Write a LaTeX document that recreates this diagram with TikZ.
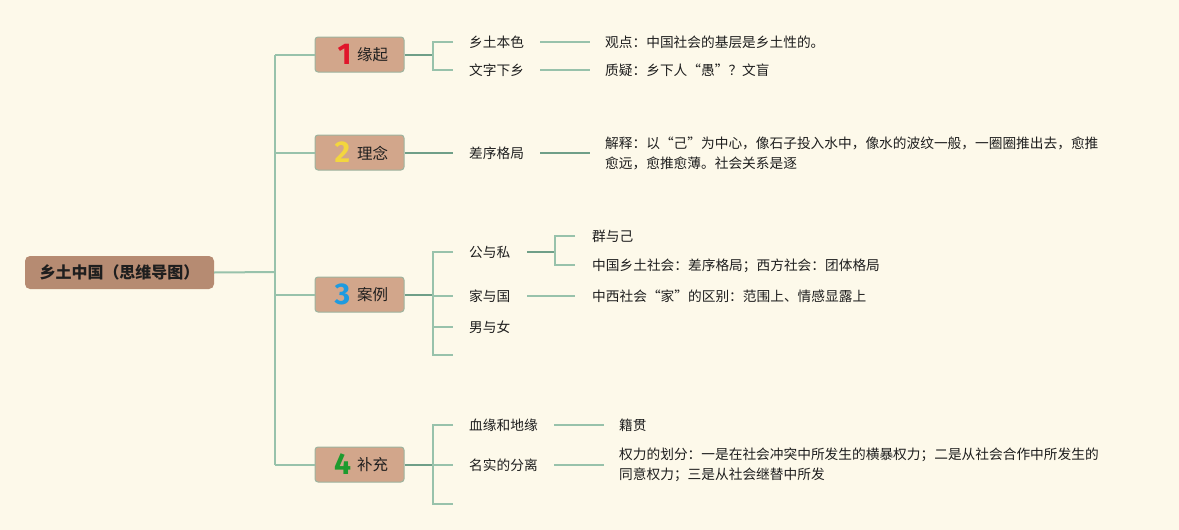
\documentclass[tikz,border=0pt]{standalone}
\usepackage{fontspec}
\setmainfont{Noto Sans CJK SC}
\newfontfamily\cjk{Noto Sans CJK SC}
\newfontfamily\numfont{Fira Sans}
\definecolor{bgc}{HTML}{FDF9EA}
\definecolor{rootc}{HTML}{B68B72}
\definecolor{boxc}{HTML}{D2A68B}
\definecolor{boxb}{HTML}{9DB39E}
\definecolor{linec}{HTML}{98C2AB}
\definecolor{lined}{HTML}{6F9F88}
\definecolor{txtc}{HTML}{1E1E1E}
\definecolor{nred}{HTML}{E0162B}
\definecolor{nyel}{HTML}{F3D63E}
\definecolor{nblue}{HTML}{1E9BE0}
\definecolor{ngreen}{HTML}{1E9B2E}
\begin{document}
\begin{tikzpicture}[x=1pt,y=-1pt,
  rootbox/.style={fill=rootc,rounded corners=5pt,minimum width=189pt,minimum height=33pt,inner sep=0pt,font=\cjk\bfseries\fontsize{16}{18}\selectfont,text=txtc},
  mainbox/.style={fill=boxc,draw=boxb,line width=1pt,rounded corners=3pt,minimum width=89pt,minimum height=35pt,inner sep=0pt},
  numtxt/.style={font=\numfont\bfseries\fontsize{30}{30}\selectfont,inner sep=0pt},
  labtxt/.style={font=\cjk\fontsize{15.5}{17}\selectfont,text=txtc,inner sep=0pt,anchor=west},
  leaf/.style={font=\cjk\fontsize{13.7}{20}\selectfont,text=txtc,inner sep=0pt,anchor=west,align=left},
  conn/.style={draw=linec,line width=2pt},
  connd/.style={draw=lined,line width=2pt}
]
\useasboundingbox (0,0) rectangle (1179,530);
\fill[bgc] (0,0) rectangle (1179,530);

% root
\node[rootbox] (root) at (119.5,272.5) {乡土中国（思维导图）};

% trunk coordinates
\coordinate (t0) at (275,272);
\coordinate (t1) at (275,54.5);
\coordinate (t2) at (275,152.5);
\coordinate (t3) at (275,294.5);
\coordinate (t4) at (275,464.5);

% main boxes
\node[mainbox] (b1) at (359.5,54.5) {};
\node[mainbox] (b2) at (359.5,152.5) {};
\node[mainbox] (b3) at (359.5,294.5) {};
\node[mainbox] (b4) at (359.5,464.5) {};
\node[numtxt,text=nred] (n1) at (344.5,54.5) {1};
\node[numtxt,text=nyel] (n2) at (342.5,152.5) {2};
\node[numtxt,text=nblue] (n3) at (342.5,294.5) {3};
\node[numtxt,text=ngreen] (n4) at (342.5,464.5) {4};
\node[labtxt] (l1) at (357,55) {缘起};
\node[labtxt] (l2) at (357,153) {理念};
\node[labtxt] (l3) at (357,295) {案例};
\node[labtxt] (l4) at (357,465) {补充};

% trunk lines
\draw[conn] (root.east) -- (t0);
\draw[conn] (t1) -- (t4);
\draw[conn] (t1) -- (b1.west);
\draw[conn] (t2) -- (b2.west);
\draw[conn] (t3) -- (b3.west);
\draw[conn] (t4) -- (b4.west);

% ---------- branch 1
\coordinate (k1) at (433,54.5);
\coordinate (k1a) at (433,42);
\coordinate (k1b) at (433,70);
\coordinate (e1a) at (453,42);
\coordinate (e1b) at (453,70);
\node[leaf] (c11) at (469,42) {乡土本色};
\node[leaf] (c12) at (469,70) {文字下乡};
\node[leaf] (d11) at (605,42) {观点：中国社会的基层是乡土性的。};
\node[leaf] (d12) at (605,70) {质疑：乡下人“愚”？文盲};
\draw[connd] (b1.east) -- (k1);
\draw[conn] (e1a) -- (k1a) -- (k1b) -- (e1b);
\coordinate (s11) at (540,42); \coordinate (f11) at (590,42);
\coordinate (s12) at (540,70); \coordinate (f12) at (590,70);
\draw[conn] (s11) -- (f11);
\draw[conn] (s12) -- (f12);

% ---------- branch 2
\coordinate (e2) at (453,152.5);
\node[leaf] (c21) at (469,153) {差序格局};
\node[leaf] (d21) at (605,153) {解释：以“己”为中心，像石子投入水中，像水的波纹一般，一圈圈推出去，愈推\\愈远，愈推愈薄。社会关系是逐};
\draw[connd] (b2.east) -- (e2);
\coordinate (s21) at (540,152.5); \coordinate (f21) at (590,152.5);
\draw[connd] (s21) -- (f21);

% ---------- branch 3
\coordinate (k3) at (433,294.5);
\coordinate (k3a) at (433,252);
\coordinate (k3d) at (433,355);
\coordinate (e3a) at (453,252);
\coordinate (e3b) at (453,296);
\coordinate (e3c) at (453,327);
\coordinate (e3d) at (453,355);
\coordinate (k3b) at (433,296);
\coordinate (k3c) at (433,327);
\node[leaf] (c31) at (469,252) {公与私};
\node[leaf] (c32) at (469,296) {家与国};
\node[leaf] (c33) at (469,327) {男与女};
\draw[connd] (b3.east) -- (k3);
\draw[conn] (e3a) -- (k3a) -- (k3d) -- (e3d);
\draw[conn] (k3b) -- (e3b);
\draw[conn] (k3c) -- (e3c);
% 公与私 sub
\coordinate (s31) at (527,252);
\coordinate (k31) at (555,252);
\coordinate (k31a) at (555,236);
\coordinate (k31b) at (555,265);
\coordinate (e31a) at (575,236);
\coordinate (e31b) at (575,265);
\node[leaf] (d311) at (592,236) {群与己};
\node[leaf] (d312) at (592,266) {中国乡土社会：差序格局；西方社会：团体格局};
\draw[connd] (s31) -- (k31);
\draw[conn] (e31a) -- (k31a) -- (k31b) -- (e31b);
% 家与国 sub
\coordinate (s32) at (527,296);
\coordinate (f32) at (575,296);
\node[leaf] (d32) at (592,296) {中西社会“家”的区别：范围上、情感显露上};
\draw[conn] (s32) -- (f32);

% ---------- branch 4
\coordinate (k4) at (433,464.5);
\coordinate (k4a) at (433,425);
\coordinate (k4c) at (433,504);
\coordinate (e4a) at (453,425);
\coordinate (e4b) at (453,464.5);
\coordinate (e4c) at (453,504);
\node[leaf] (c41) at (469,425) {血缘和地缘};
\node[leaf] (c42) at (469,465) {名实的分离};
\draw[connd] (b4.east) -- (k4);
\draw[conn] (e4a) -- (k4a) -- (k4c) -- (e4c);
\draw[conn] (k4) -- (e4b);
\coordinate (s41) at (554,425); \coordinate (f41) at (604,425);
\coordinate (s42) at (554,464.5); \coordinate (f42) at (604,464.5);
\draw[conn] (s41) -- (f41);
\draw[conn] (s42) -- (f42);
\node[leaf] (d41) at (619,425) {籍贯};
\node[leaf] (d42) at (619,464.5) {权力的划分：一是在社会冲突中所发生的横暴权力；二是从社会合作中所发生的\\同意权力；三是从社会继替中所发};
\end{tikzpicture}
\end{document}
